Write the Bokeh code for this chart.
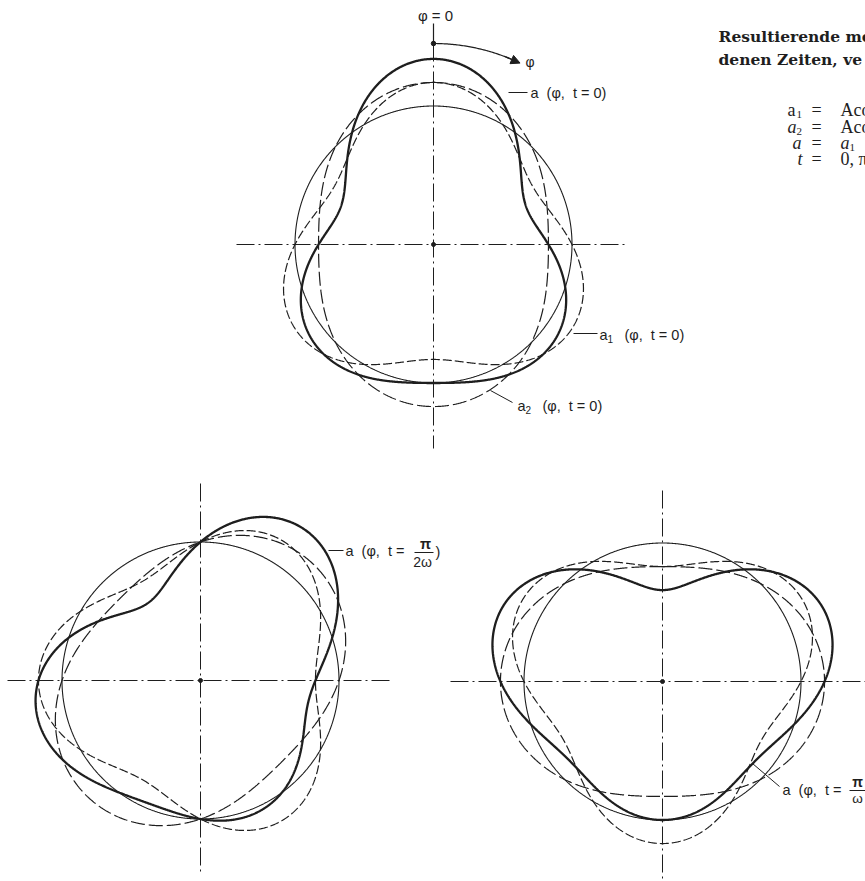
import numpy as np
from bokeh.plotting import figure
from bokeh.models import Range1d, Arrow, NormalHead
from bokeh.core.properties import value
from bokeh.embed import file_html
from bokeh.resources import INLINE

# ---- data: ring mode shapes a1, a2 and their sum a = a1 + a2 ----
MODE_N = [3, 2]             # circumferential wave numbers of a1, a2
AMP = [0.17, 0.17]          # amplitude A relative to the ring radius
R0 = 1.0                    # undeformed ring radius
OMEGA_T = [0.0, np.pi / 2, np.pi]   # t = 0, pi/(2w), pi/w
TIME_TEXT = ["0", "π/2ω", "π/ω"]

# ---- layout (reference pixel coordinates) ----
INK = "#1e1e1e"
CENTERS = [(433, 244), (200, 680), (662, 681)]
SCALE = 138.5
SANS = value("Liberation Sans")
SERIF_B = value("DejaVu Serif")
SERIF = value("Liberation Serif")
NB = "\u00a0"

p = figure(width=865, height=881, x_range=Range1d(0, 865), y_range=Range1d(881, 0),
           toolbar_location=None, output_backend="svg", min_border=0)
p.axis.visible = False
p.xgrid.visible = False
p.ygrid.visible = False
p.outline_line_color = None
p.background_fill_color = "white"
p.border_fill_color = "white"

phi = np.linspace(0, 2 * np.pi, 1441)

# centre lines (dash-dot)
AXES = [((433, 43), (433, 448), (236, 244), (626, 244)),
        ((200, 483), (200, 872), (7, 680), (392, 680)),
        ((662, 490), (662, 880), (450, 681), (870, 681))]
DASHDOT = "18 4 2 4"
for (v0, v1, h0, h1) in AXES:
    p.line([v0[0], v1[0]], [v0[1], v1[1]], line_color=INK, line_width=1, line_dash=DASHDOT)
    p.line([h0[0], h1[0]], [h0[1], h1[1]], line_color=INK, line_width=1, line_dash=DASHDOT)
p.line([433, 433], [23, 43], line_color=INK, line_width=1.2)

for (cx, cy), wt in zip(CENTERS, OMEGA_T):
    a1 = AMP[0] * np.cos(MODE_N[0] * phi - wt)
    a2 = AMP[1] * np.cos(MODE_N[1] * phi - wt)
    a = a1 + a2

    def xy(r):
        return cx + SCALE * r * np.sin(phi), cy - SCALE * r * np.cos(phi)

    x, y = xy(R0 + 0 * phi)
    p.line(x, y, line_color=INK, line_width=1.1)
    x, y = xy(R0 + a1)
    p.line(x, y, line_color=INK, line_width=1.2, line_dash="9 3")
    x, y = xy(R0 + a2)
    p.line(x, y, line_color=INK, line_width=1.2, line_dash="14 4")
    x, y = xy(R0 + a)
    p.line(x, y, line_color=INK, line_width=2.3)
    p.scatter([cx], [cy], size=4, color=INK)

# phi arrow on top diagram
cx, cy = CENTERS[0]
ra = 201
ang = np.radians(np.linspace(0, 23, 60))
p.line(cx + ra * np.sin(ang), cy - ra * np.cos(ang), line_color=INK, line_width=1.2)
a0, a_end = np.radians(21), np.radians(25.5)
p.add_layout(Arrow(end=NormalHead(size=9, fill_color=INK, line_color=INK),
                   x_start=cx + ra * np.sin(a0), y_start=cy - ra * np.cos(a0),
                   x_end=cx + ra * np.sin(a_end), y_end=cy - ra * np.cos(a_end),
                   line_color=INK, line_width=1.2))
p.scatter([433], [43], size=4.5, color=INK)

def txt(x, y, s, size=14, font=SANS, style="normal", align="left", base="middle"):
    p.text([x], [y], text=[s], text_font=font, text_font_size=f"{size}px",
           text_font_style=style, text_color=INK, text_align=align, text_baseline=base)

txt(435, 15, "φ" + NB + "=" + NB + "0", 15, align="center")
txt(525, 61, "φ", 14)

# leaders
p.line([508, 527], [92, 92], line_color=INK, line_width=1)
p.line([573, 597], [333, 333], line_color=INK, line_width=1)
p.line([490, 512], [390, 402], line_color=INK, line_width=1)
p.line([328, 343], [550, 550], line_color=INK, line_width=1)
p.line([752, 779], [763, 786], line_color=INK, line_width=1)

SP2 = NB + NB
LBL = "(φ," + SP2 + "t" + NB + "=" + NB
txt(530, 92, "a" + SP2 + LBL + TIME_TEXT[0] + ")", 14.5)
txt(599, 334, "a", 14.5)
txt(607, 338, "1", 10)
txt(624, 334, LBL + TIME_TEXT[0] + ")", 14.5)
txt(517, 405, "a", 14.5)
txt(525, 409, "2", 10)
txt(542, 405, LBL + TIME_TEXT[0] + ")", 14.5)

# fraction labels
txt(345, 550, "a" + SP2 + "(φ," + SP2 + "t" + NB + "=", 14.5)
txt(425, 543, "π", 14.5, style="bold", align="center")
p.line([414, 433], [552, 552], line_color=INK, line_width=1)
txt(422, 561, "2ω", 14, align="center")
txt(435, 551, ")", 14.5)

txt(782, 789, "a" + SP2 + "(φ," + SP2 + "t" + NB + "=", 14.5)
txt(857, 781, "π", 14, style="bold", align="center")
p.line([849, 865], [790, 790], line_color=INK, line_width=1)
txt(857, 798, "ω", 13.5, align="center")

# right-hand caption (cut by the page edge as in the original)
txt(718, 36, "Resultierende mo", 15.5, font=SERIF_B, style="bold")
txt(718, 59, "denen Zeiten, ve", 15.5, font=SERIF_B, style="bold")
FS = 18
txt(787, 109, "a", FS, font=SERIF)
txt(796, 114, "1", 11, font=SERIF)
txt(811, 109, "=", FS, font=SERIF)
txt(840, 109, "Acos", FS, font=SERIF)
txt(787, 126, "a", FS, font=SERIF, style="italic")
txt(796, 131, "2", 11, font=SERIF)
txt(811, 126, "=", FS, font=SERIF)
txt(840, 126, "Acos", FS, font=SERIF)
txt(792, 142, "a", FS, font=SERIF, style="italic")
txt(811, 142, "=", FS, font=SERIF)
txt(840, 142, "a", FS, font=SERIF, style="italic")
txt(849, 147, "1", 11, font=SERIF)
txt(797, 158, "t", FS, font=SERIF, style="italic")
txt(811, 158, "=", FS, font=SERIF)
txt(840, 158, "0, π", FS, font=SERIF)

open("out.html", "w").write(file_html(p, INLINE))
